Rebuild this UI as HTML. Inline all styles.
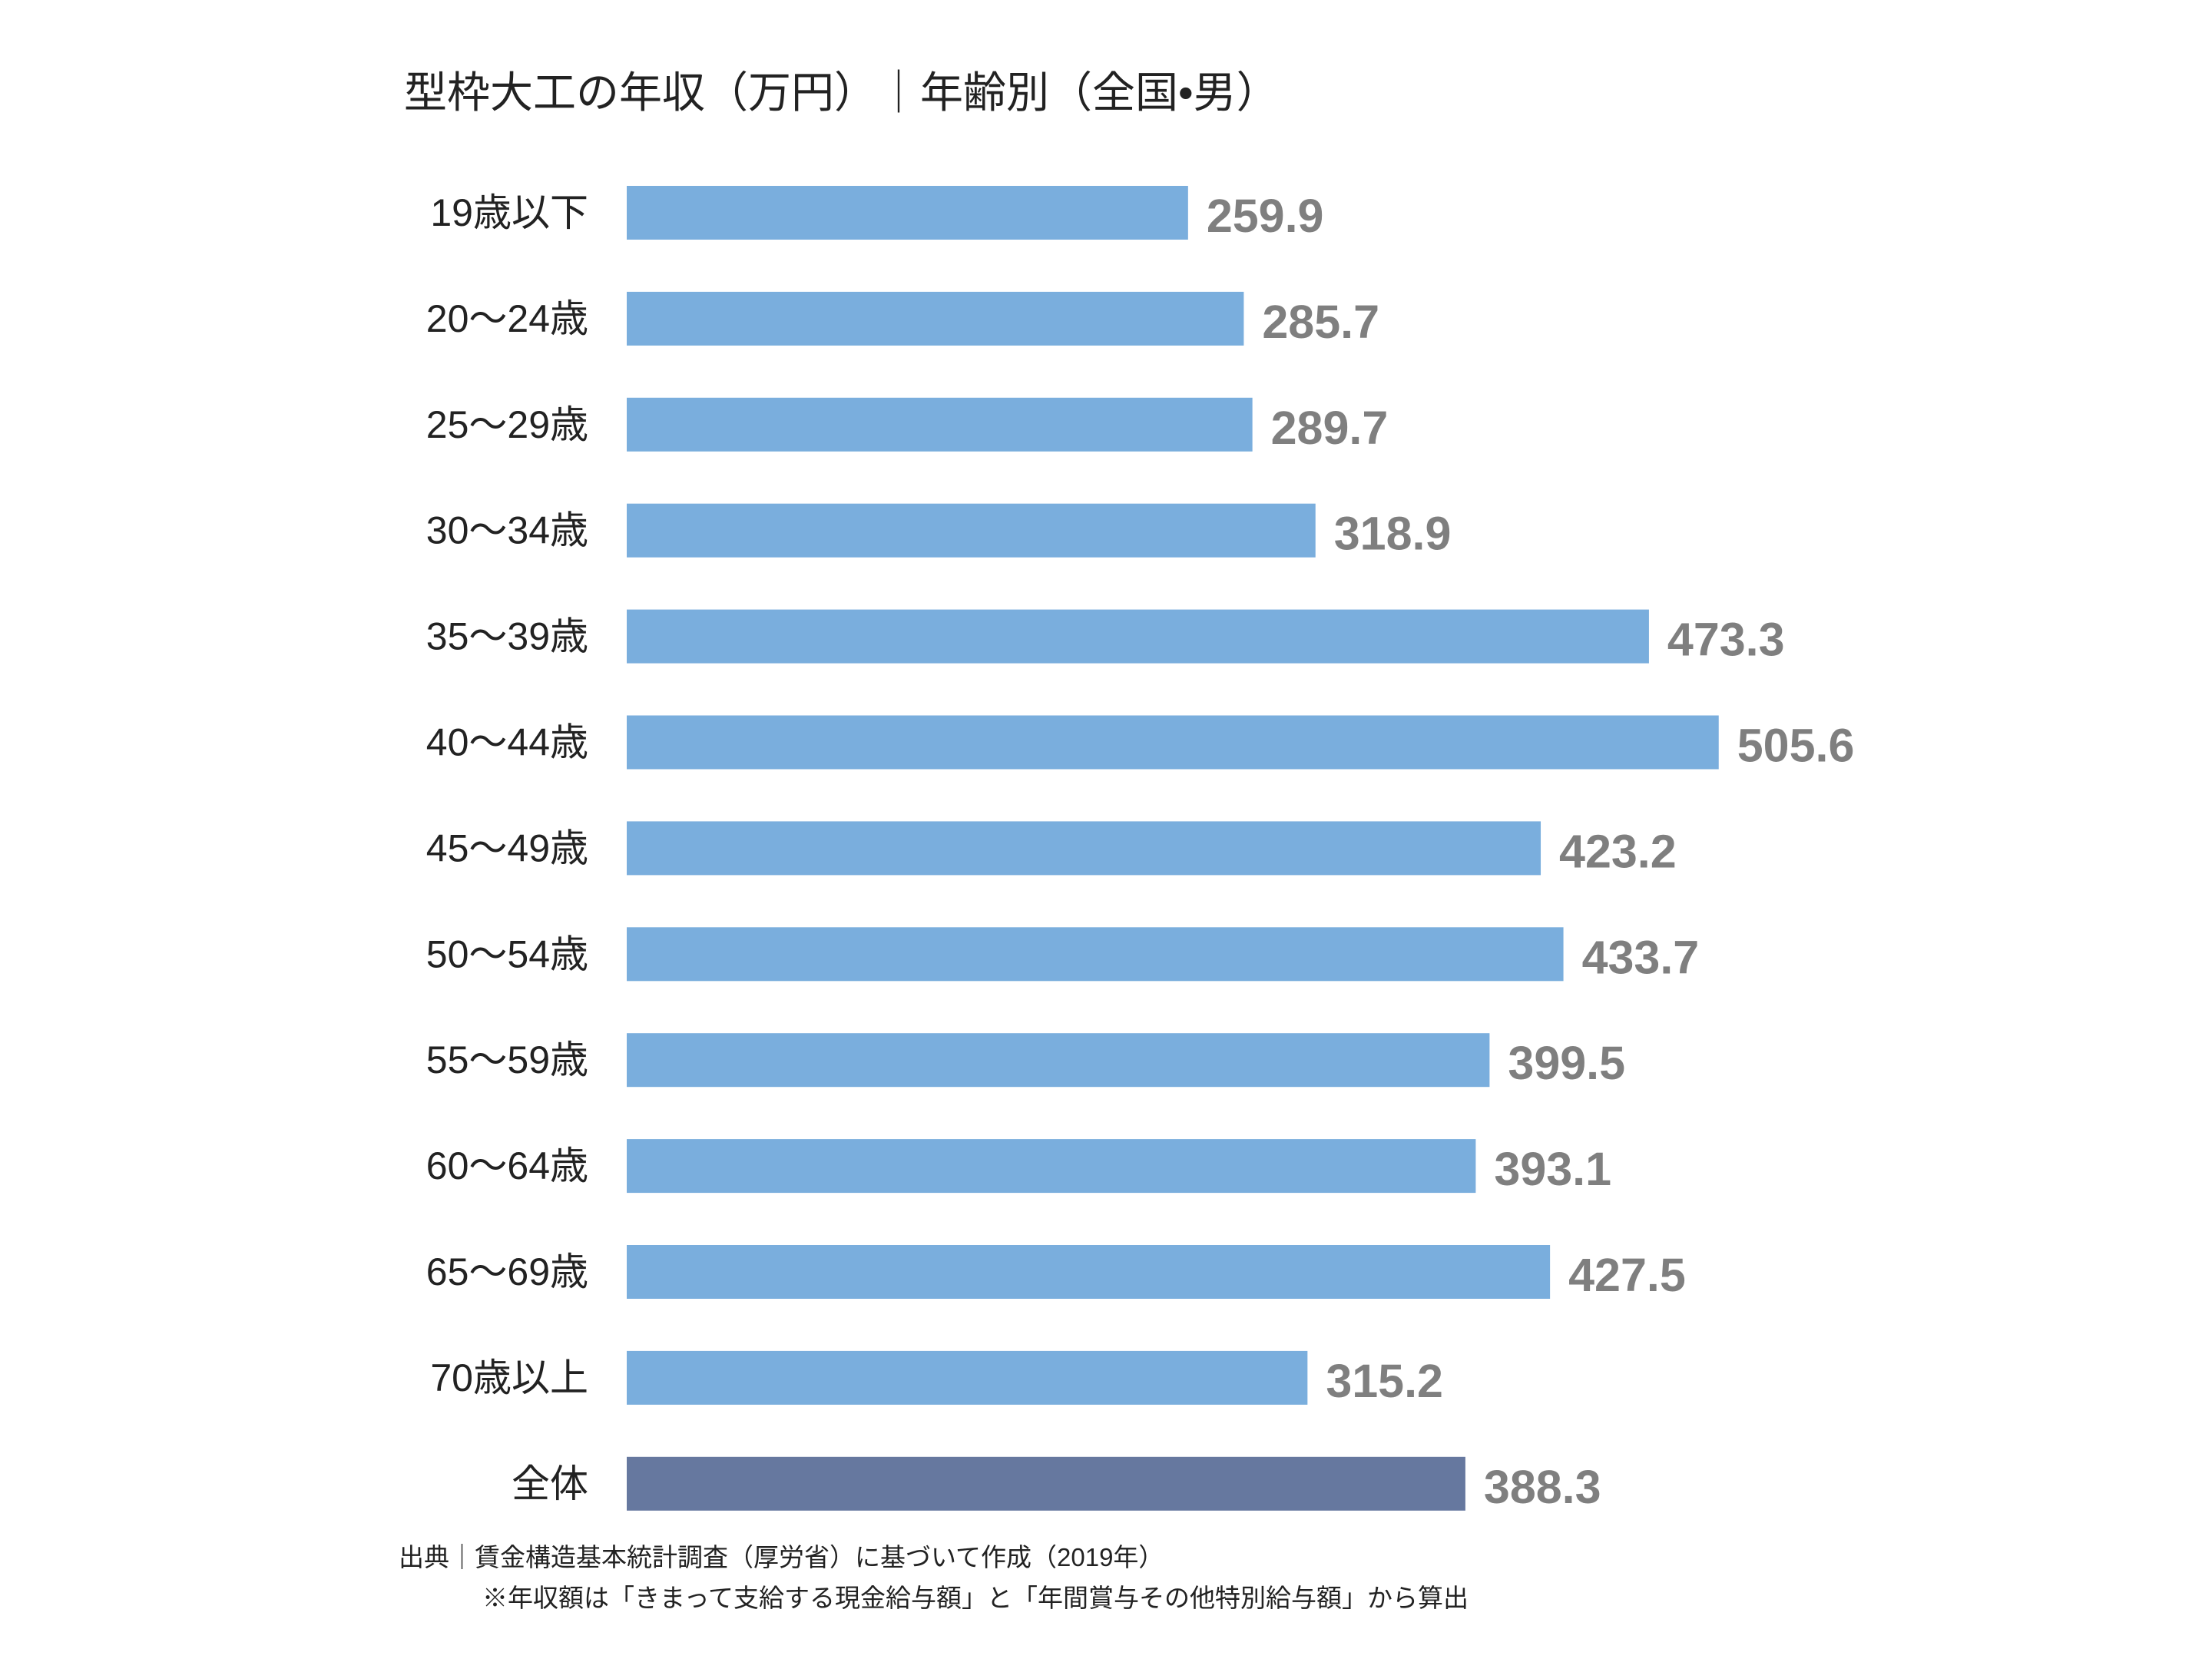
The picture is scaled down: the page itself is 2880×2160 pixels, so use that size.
<!DOCTYPE html>
<html><head><meta charset="utf-8"><style>
html,body{margin:0;padding:0;background:#fff;}
svg{display:block;}
</style></head><body>
<svg id="chart" width="2880" height="2160" viewBox="0 0 2880 2160" xmlns="http://www.w3.org/2000/svg">
<rect width="2880" height="2160" fill="#fff"/>
<text x="526" y="140" font-family="'Liberation Sans','Noto Sans CJK JP',sans-serif" font-size="56" fill="#222">型枠大工の年収（万円）｜年齢別（全国•男）</text>
<g id="bars"></g>
<text x="519" y="2039" font-family="'Liberation Sans','Noto Sans CJK JP',sans-serif" font-size="33" fill="#222">出典｜賃金構造基本統計調査（厚労省）に基づいて作成（2019年）</text>
<text x="628" y="2092" font-family="'Liberation Sans','Noto Sans CJK JP',sans-serif" font-size="33" fill="#222">※年収額は「きまって支給する現金給与額」と「年間賞与その他特別給与額」から算出</text>
</svg>
<script>
const categories = ["19歳以下","20～24歳","25～29歳","30～34歳","35～39歳","40～44歳","45～49歳","50～54歳","55～59歳","60～64歳","65～69歳","70歳以上","全体"];
const values = [259.9,285.7,289.7,318.9,473.3,505.6,423.2,433.7,399.5,393.1,427.5,315.2,388.3];
const valueLabels = ["259.9","285.7","289.7","318.9","473.3","505.6","423.2","433.7","399.5","393.1","427.5","315.2","388.3"];

const NS = "http://www.w3.org/2000/svg";
const x0 = 816, pxPerUnit = 2.812;
const top0 = 242, step = 137.9, barH = 70;
function xScale(v){ return x0 + v * pxPerUnit; }
function yScale(i){ return top0 + i * step; }
const g = document.getElementById("bars");
categories.forEach((c, i) => {
  const y = yScale(i);
  const r = document.createElementNS(NS, "rect");
  r.setAttribute("x", x0);
  r.setAttribute("y", y);
  r.setAttribute("width", xScale(values[i]) - x0);
  r.setAttribute("height", barH);
  r.setAttribute("fill", i === categories.length - 1 ? "#66789f" : "#7aaedd");
  
  
  g.appendChild(r);

  const t = document.createElementNS(NS, "text");
  t.setAttribute("x", 766);
  t.setAttribute("y", y + barH / 2 + 17);
  t.setAttribute("text-anchor", "end");
  t.setAttribute("font-family", "'Liberation Sans','Noto Sans CJK JP',sans-serif");
  t.setAttribute("font-size", "50");
  t.setAttribute("fill", "#222");
  t.textContent = c;
  
  
  g.appendChild(t);

  const v = document.createElementNS(NS, "text");
  v.setAttribute("x", xScale(values[i]) + 24);
  v.setAttribute("y", y + barH / 2 + 25);
  v.setAttribute("font-family", "'Liberation Sans',sans-serif");
  v.setAttribute("font-weight", "bold");
  v.setAttribute("font-size", "61");
  v.setAttribute("fill", "#7f7f7f");
  v.textContent = valueLabels[i];
  
  
  g.appendChild(v);
});
</script>
</body></html>
